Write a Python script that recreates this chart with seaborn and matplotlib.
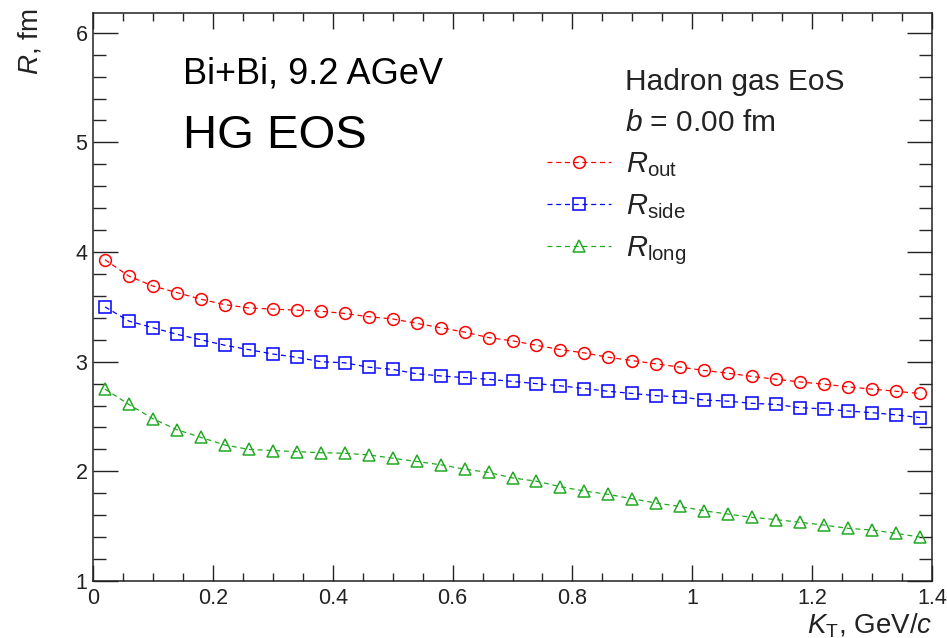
import numpy as np
import pandas as pd
import matplotlib
matplotlib.use("Agg")
import matplotlib.pyplot as plt
from matplotlib.ticker import MultipleLocator
import seaborn as sns

kt = [0.02, 0.06, 0.10, 0.14, 0.18, 0.22, 0.26, 0.30, 0.34, 0.38, 0.42, 0.46,
      0.50, 0.54, 0.58, 0.62, 0.66, 0.70, 0.74, 0.78, 0.82, 0.86, 0.90, 0.94,
      0.98, 1.02, 1.06, 1.10, 1.14, 1.18, 1.22, 1.26, 1.30, 1.34, 1.38]
r_out = [3.93, 3.78, 3.69, 3.63, 3.57, 3.52, 3.49, 3.48, 3.47, 3.46, 3.44, 3.41,
         3.39, 3.35, 3.31, 3.27, 3.22, 3.19, 3.15, 3.11, 3.08, 3.04, 3.01, 2.98,
         2.95, 2.92, 2.895, 2.865, 2.84, 2.815, 2.795, 2.77, 2.75, 2.73, 2.71]
r_side = [3.50, 3.37, 3.31, 3.25, 3.20, 3.15, 3.11, 3.07, 3.04, 3.00, 2.99, 2.95,
          2.93, 2.89, 2.87, 2.855, 2.84, 2.82, 2.80, 2.78, 2.755, 2.73, 2.71, 2.69,
          2.68, 2.65, 2.64, 2.62, 2.61, 2.58, 2.57, 2.55, 2.535, 2.515, 2.49]
r_long = [2.75, 2.61, 2.48, 2.38, 2.31, 2.24, 2.20, 2.19, 2.18, 2.17, 2.165, 2.15,
          2.12, 2.09, 2.06, 2.02, 1.99, 1.94, 1.91, 1.86, 1.82, 1.79, 1.75, 1.71,
          1.68, 1.64, 1.61, 1.58, 1.56, 1.535, 1.51, 1.48, 1.465, 1.435, 1.40]

series_labels = [r"$R_{\mathrm{out}}$", r"$R_{\mathrm{side}}$", r"$R_{\mathrm{long}}$"]
series_colors = ["#ff0000", "#0000ff", "#22aa22"]
series_markers = ["o", "s", "^"]

sns.set_style("ticks")
plt.rcParams["font.family"] = ["Liberation Sans", "DejaVu Sans"]
plt.rcParams["mathtext.fontset"] = "custom"
plt.rcParams["mathtext.rm"] = "Liberation Sans"
plt.rcParams["mathtext.it"] = "Liberation Sans:italic"
plt.rcParams["mathtext.bf"] = "Liberation Sans:bold"

fig = plt.figure(figsize=(9.47, 6.38), dpi=100)
W, H = 947, 638
ax = fig.add_axes([93 / W, 1 - 581 / H, (932 - 93) / W, (581 - 13) / H])

for ys, lab, col, mk in zip([r_out, r_side, r_long], series_labels, series_colors, series_markers):
    df = pd.DataFrame({"kt": kt, "r": ys})
    sns.lineplot(data=df, x="kt", y="r", ax=ax, color=col, marker=mk,
                 linestyle=(0, (4, 3)), linewidth=0.9, markersize=8.5,
                 markerfacecolor="none", markeredgecolor=col, markeredgewidth=1.1,
                 label=lab, legend=False)

ax.set_xlim(0, 1.4)
ax.set_ylim(1, 6.18)
ax.set_xlabel("")
ax.set_ylabel("")
ax.xaxis.set_minor_locator(MultipleLocator(0.05))
ax.yaxis.set_minor_locator(MultipleLocator(0.2))
ax.set_xticks([0, 0.2, 0.4, 0.6, 0.8, 1.0, 1.2, 1.4])
ax.set_xticklabels(["0", "0.2", "0.4", "0.6", "0.8", "1", "1.2", "1.4"])
ax.set_yticks([1, 2, 3, 4, 5, 6])
ax.set_yticklabels(["1", "2", "3", "4", "5", "6"])

for s in ax.spines.values():
    s.set_linewidth(1.1)
    s.set_color("#222222")

ax.tick_params(axis="x", which="major", direction="in", length=11.5, width=1.0,
               top=True, bottom=True, labelsize=15.5, pad=5, colors="#222222")
ax.tick_params(axis="x", which="minor", direction="in", length=5.8, width=1.0,
               top=True, bottom=True)
ax.tick_params(axis="y", which="major", direction="in", length=18, width=1.0,
               left=True, right=True, labelsize=15.5, pad=4, colors="#222222")
ax.tick_params(axis="y", which="minor", direction="in", length=9.4, width=1.0,
               left=True, right=True)

fig.text(30 / W, 1 - 9 / H, r"$R$, fm", rotation=90, ha="center", va="top",
         fontsize=20, color="#222222")
fig.text(932 / W, 1 - 633 / H, r"$K_{\mathrm{T}}$, GeV/$c$", ha="right", va="baseline",
         fontsize=20, color="#222222")

fig.text(183 / W, 1 - 83 / H, "Bi+Bi, 9.2 AGeV", ha="left", va="baseline",
         fontsize=26, color="black")
fig.text(183 / W, 1 - 148 / H, "HG EOS", ha="left", va="baseline",
         fontsize=34, color="black")
fig.text(625 / W, 1 - 90 / H, "Hadron gas EoS", ha="left", va="baseline",
         fontsize=21.5, color="#222222")
fig.text(625 / W, 1 - 131 / H, r"$b$ = 0.00 fm", ha="left", va="baseline",
         fontsize=21.5, color="#222222")

leg = ax.legend(loc="upper left", bbox_to_anchor=(547 / W, 1 - 150 / H),
                bbox_transform=fig.transFigure, frameon=False, fontsize=21,
                handlelength=2.2, handletextpad=0.5, labelspacing=0.46,
                borderpad=0, borderaxespad=0, numpoints=1)
for t in leg.get_texts():
    t.set_color("#222222")

fig.savefig("out.png", dpi=100)
